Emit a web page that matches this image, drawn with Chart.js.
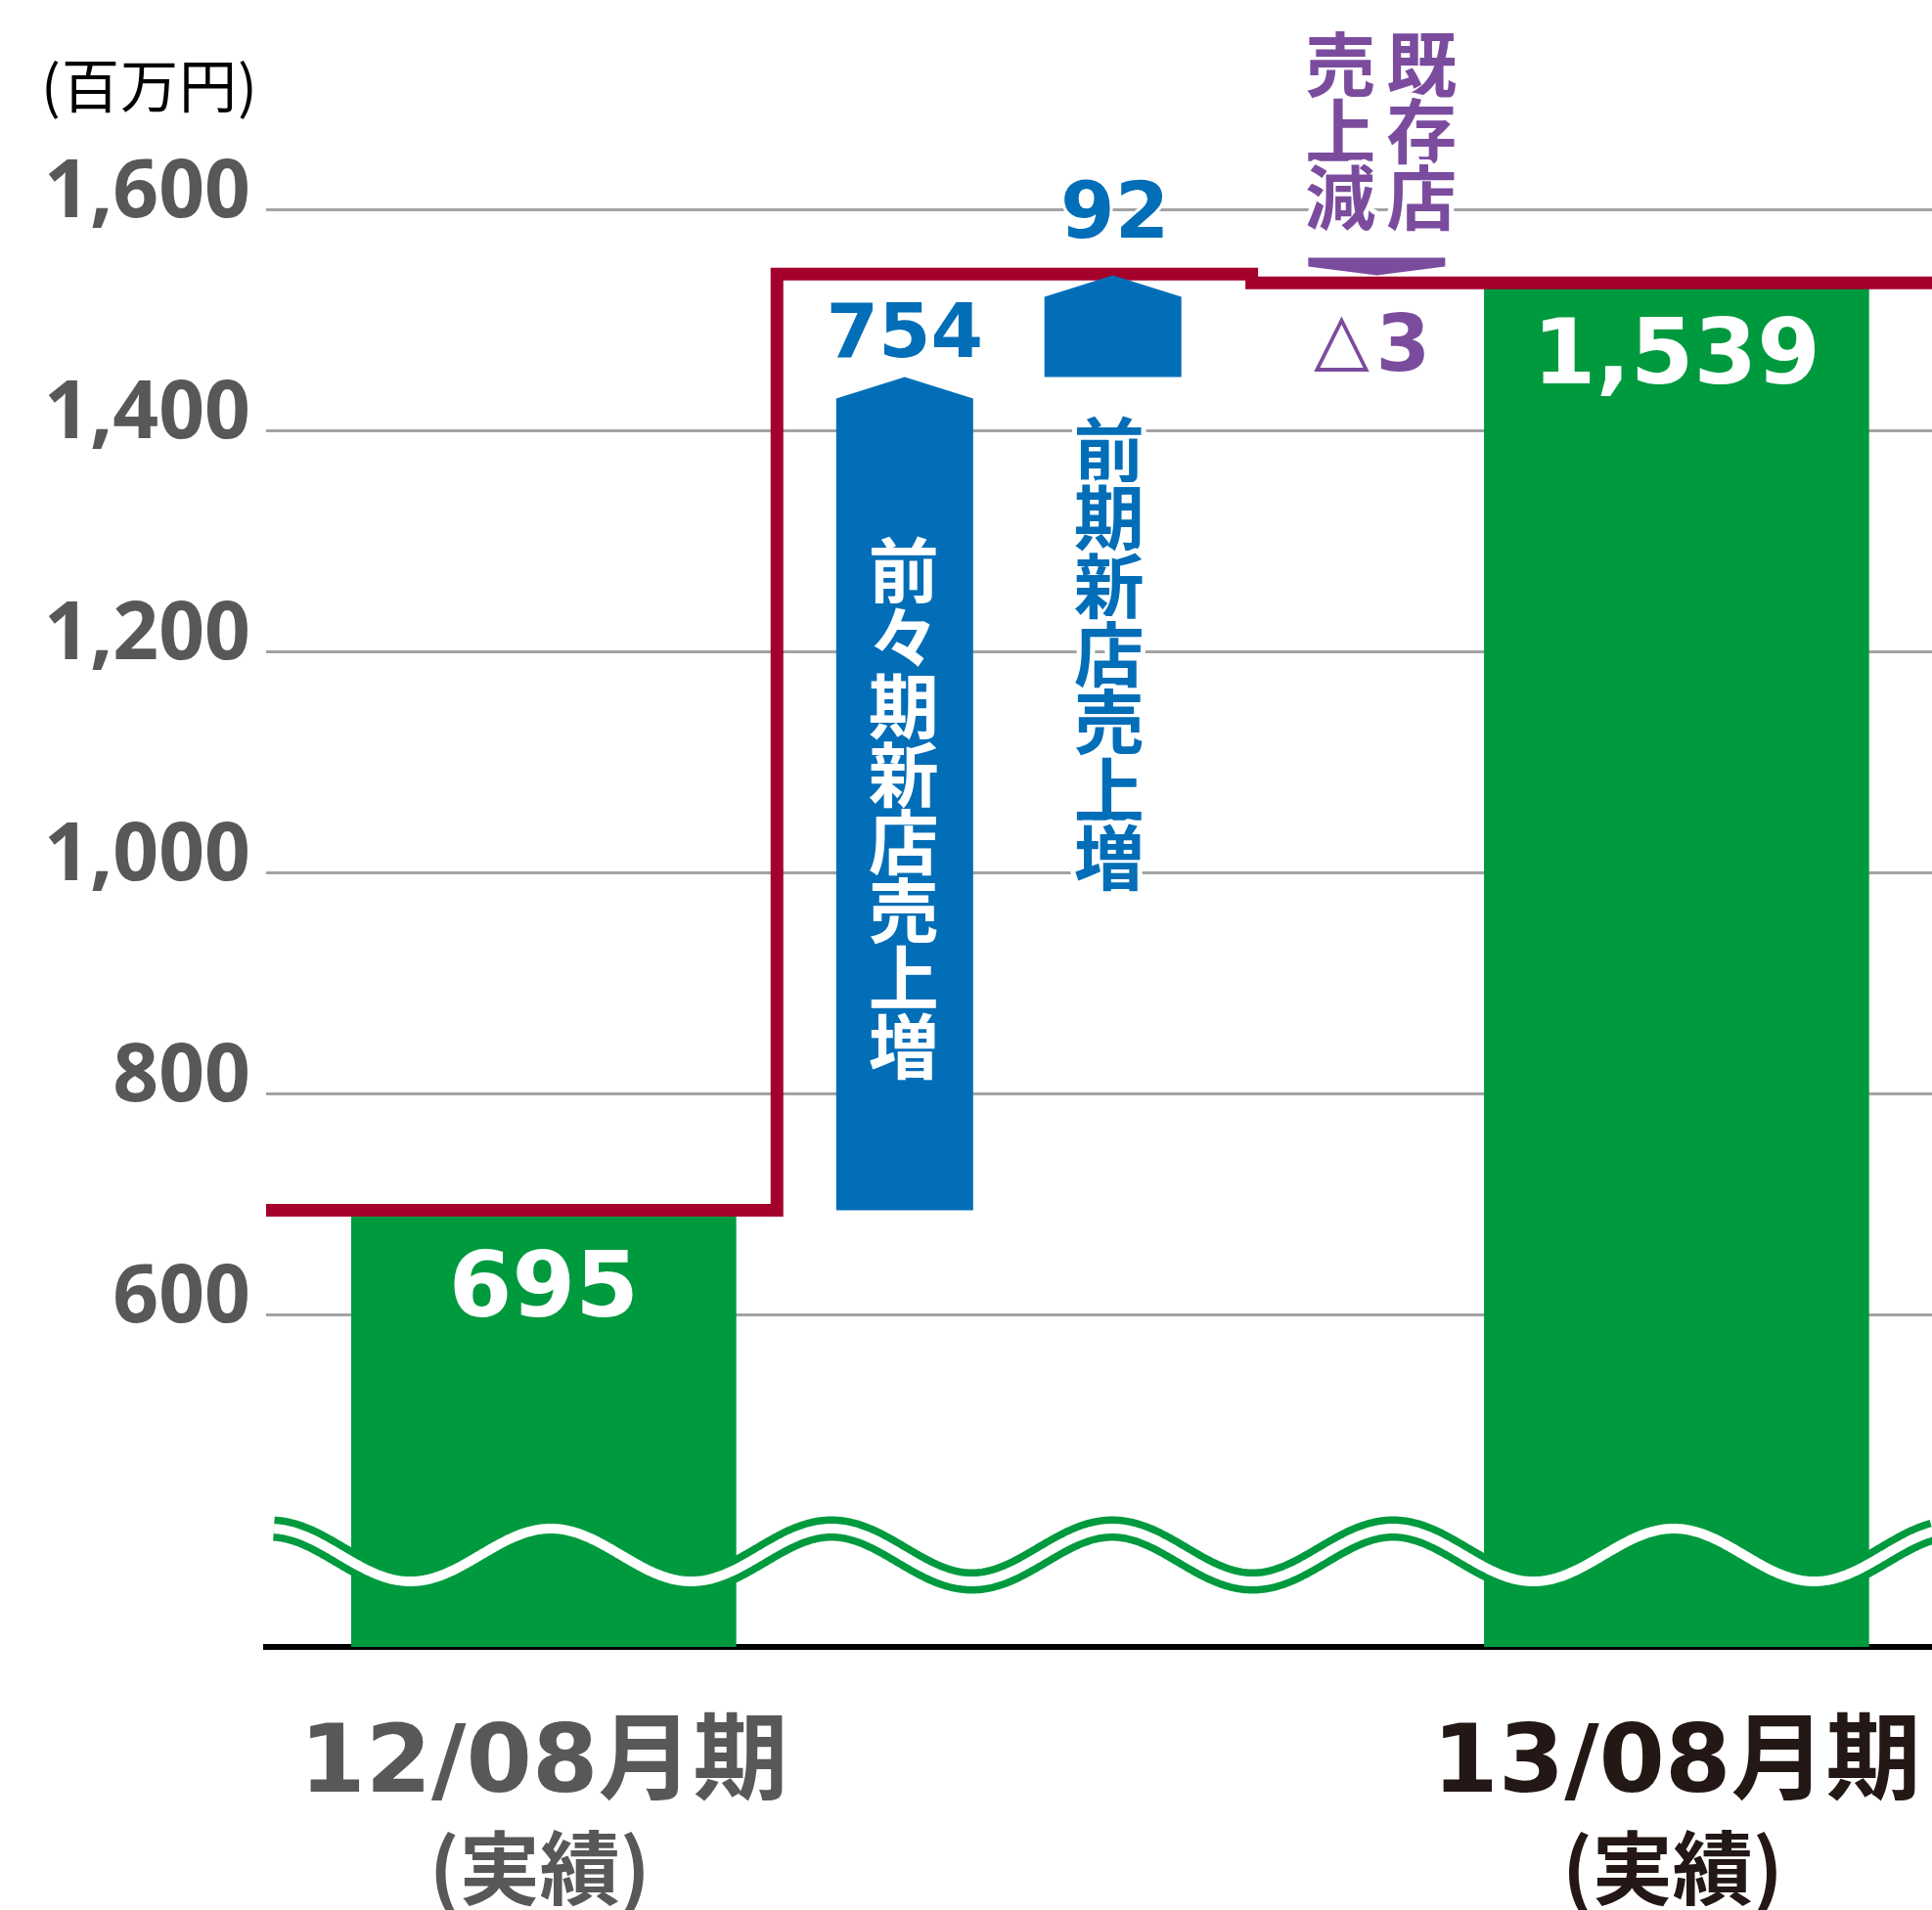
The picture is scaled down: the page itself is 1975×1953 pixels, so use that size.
<!DOCTYPE html>
<html lang="ja">
<head>
<meta charset="utf-8">
<title>売上高 増減要因</title>
<script src="https://cdn.jsdelivr.net/npm/chart.js@4.4.1/dist/chart.umd.min.js"></script>
<style>
  html, body { margin: 0; padding: 0; background: #fff; }
  canvas { display: block; }
</style>
</head>
<body>
<canvas id="salesChart" width="1975" height="1953"></canvas>
<script>
// values (百万円)
const periods = ['12/08月期', '13/08月期'];
const periodNotes = ['(実績)', '(実績)'];
const sales = [695, 1539];
const changeLabels = ['前々期新店売上増', '前期新店売上増', '既存店売上減'];
const changes = [754, 92, -3];
const stepLevels = [695, 1542, 1534]; // red total line as drawn in the picture
const yTicks = [600, 800, 1000, 1200, 1400, 1600];

// where things sit on the hidden 0..6 x axis
const periodX = [1, 5.08];
const changeX = [2.3, 3.05, 4.0];
const stepX = [0, 1.84, 3.55, 6];

const GREEN = '#009a3e', BLUE = '#036eb8', RED = '#a4002c', PURPLE = '#7b4c9e';
const GRAY = '#595757', DARK = '#231815';
const periodColors = [GRAY, DARK];

// floating ranges for the change arrows, chained from the first period
let running = sales[0];
const changeRanges = changes.map(c => {
    const r = [running, running + c];
    running += c;
    return r;
});

function drawColumn(ctx, text, x, firstY, pitch, fill, halo) {
    [...text].forEach((ch, k) => {
        const cy = firstY + k * pitch;
        if (halo) {
            ctx.strokeStyle = '#fff';
            ctx.lineWidth = halo;
            ctx.lineJoin = 'round';
            ctx.strokeText(ch, x, cy);
        }
        ctx.fillStyle = fill;
        ctx.fillText(ch, x, cy);
    });
}

const notesPlugin = {
    id: 'notes',
    afterDatasetsDraw(chart) {
        const { ctx, chartArea: area } = chart;
        const bars = chart.getDatasetMeta(0).data;
        const arrows = chart.getDatasetMeta(2).data;
        ctx.save();

        // double wavy break line
        const midY = area.bottom - 94, amp = 27, period = 287;
        const x0 = area.left + 8;
        ctx.beginPath();
        for (let x = x0; x <= chart.width + 2; x += 2) {
            const wy = midY - amp * Math.cos(2 * Math.PI * (x - area.left - 4) / period);
            if (x === x0) ctx.moveTo(x, wy); else ctx.lineTo(x, wy);
        }
        ctx.lineCap = 'butt';
        ctx.lineJoin = 'round';
        ctx.strokeStyle = GREEN;
        ctx.lineWidth = 25;
        ctx.stroke();
        ctx.strokeStyle = '#fff';
        ctx.lineWidth = 10;
        ctx.stroke();

        // arrows (up = blue, down = purple)
        arrows.forEach((el, i) => {
            const { x, y, base, width } = el.getProps(['x', 'y', 'base', 'width'], true);
            const top = Math.min(y, base), bottom = Math.max(y, base), half = width / 2;
            ctx.beginPath();
            if (changes[i] >= 0) {
                ctx.moveTo(x - half, bottom);
                ctx.lineTo(x - half, top + 22);
                ctx.lineTo(x, top);
                ctx.lineTo(x + half, top + 22);
                ctx.lineTo(x + half, bottom);
                ctx.fillStyle = BLUE;
            } else {
                ctx.moveTo(x - half, top - 18);
                ctx.lineTo(x + half, top - 18);
                ctx.lineTo(x + half, top - 9);
                ctx.lineTo(x, top);
                ctx.lineTo(x - half, top - 9);
                ctx.fillStyle = PURPLE;
            }
            ctx.closePath();
            ctx.fill();
        });

        // bar values
        ctx.textAlign = 'center';
        ctx.textBaseline = 'alphabetic';
        ctx.font = "bold 93px 'DejaVu Sans'";
        ctx.fillStyle = '#fff';
        bars.forEach((el, i) => {
            ctx.fillText(sales[i].toLocaleString('en-US'), el.x, el.y + 108);
        });

        // change values and captions
        const cjk = "bold 72px 'Noto Sans CJK JP'";
        arrows.forEach((el, i) => {
            const top = Math.min(el.y, el.base), bottom = Math.max(el.y, el.base);
            ctx.textAlign = 'center';
            if (i === 0) {
                ctx.textBaseline = 'alphabetic';
                ctx.font = "bold 77px 'DejaVu Sans'";
                ctx.strokeStyle = '#fff'; ctx.lineWidth = 6;
                ctx.strokeText(String(changes[i]), el.x, top - 20);
                ctx.fillStyle = BLUE;
                ctx.fillText(String(changes[i]), el.x, top - 20);
                ctx.textBaseline = 'middle';
                ctx.font = cjk;
                drawColumn(ctx, changeLabels[i], el.x - 1, top + 197, 69.6, '#fff', 0);
            } else if (i === 1) {
                ctx.textBaseline = 'alphabetic';
                ctx.font = "bold 80px 'DejaVu Sans'";
                ctx.strokeStyle = '#fff'; ctx.lineWidth = 6;
                ctx.strokeText(String(changes[i]), el.x + 2, top - 38);
                ctx.fillStyle = BLUE;
                ctx.fillText(String(changes[i]), el.x + 2, top - 38);
                ctx.textBaseline = 'middle';
                ctx.font = cjk;
                drawColumn(ctx, changeLabels[i], el.x - 4, bottom + 74, 69.6, BLUE, 10);
            } else {
                // △3 below the line, caption in two columns above the arrow
                ctx.textBaseline = 'alphabetic';
                ctx.font = "bold 80px 'DejaVu Sans'";
                ctx.fillStyle = PURPLE;
                ctx.fillText(String(Math.abs(changes[i])), el.x + 27, top + 98);
                ctx.font = "74px 'DejaVu Sans'";
                ctx.fillText('△', el.x - 36, top + 90);
                ctx.textBaseline = 'middle';
                ctx.font = cjk;
                const chars = [...changeLabels[i]];
                const firstY = top - 18 - 62 - 2 * 68;
                drawColumn(ctx, chars.slice(0, 3).join(''), el.x + 46, firstY, 68, PURPLE, 10);
                drawColumn(ctx, chars.slice(3).join(''), el.x - 37, firstY, 68, PURPLE, 10);
            }
        });

        // period labels under the axis
        bars.forEach((el, i) => {
            ctx.fillStyle = periodColors[i];
            ctx.textAlign = 'center';
            ctx.textBaseline = 'alphabetic';
            ctx.font = "bold 97px 'DejaVu Sans', 'Noto Sans CJK JP'";
            ctx.fillText(periods[i], el.x, area.bottom + 148);
            ctx.textBaseline = 'middle';
            ctx.font = "bold 82px 'Noto Sans CJK JP'";
            ctx.fillText(periodNotes[i], el.x - 4, area.bottom + 226);
        });

        // unit
        ctx.fillStyle = '#000';
        ctx.textAlign = 'left';
        ctx.textBaseline = 'middle';
        ctx.font = "59px 'Noto Sans CJK JP'";
        ctx.letterSpacing = '1px';
        ctx.fillText('(百万円)', 42, 88);
        ctx.letterSpacing = '0px';

        ctx.restore();
    }
};

const ctx = document.getElementById('salesChart').getContext('2d');
new Chart(ctx, {
    type: 'bar',
    data: {
        datasets: [
            {
                type: 'bar',
                label: '売上高',
                data: periods.map((p, i) => ({ x: periodX[i], y: sales[i] })),
                backgroundColor: GREEN,
                barThickness: 393,
                grouped: false,
                order: 3
            },
            {
                type: 'line',
                label: '合計',
                data: stepX.map((x, i) => ({ x: x, y: stepLevels[Math.min(i, stepLevels.length - 1)] })),
                stepped: 'before',
                borderColor: RED,
                borderWidth: 13,
                borderJoinStyle: 'miter',
                borderCapStyle: 'butt',
                pointRadius: 0,
                fill: false,
                order: 1
            },
            {
                type: 'bar',
                label: '増減',
                data: changeLabels.map((l, i) => ({ x: changeX[i], y: changeRanges[i] })),
                backgroundColor: 'rgba(0,0,0,0)',
                barThickness: 140,
                grouped: false,
                order: 2
            }
        ]
    },
    options: {
        responsive: false,
        animation: false,
        events: [],
        layout: { padding: { left: 0, right: 0, top: 0, bottom: 269 } },
        plugins: {
            legend: { display: false },
            tooltip: { enabled: false }
        },
        scales: {
            x: {
                type: 'linear',
                min: 0,
                max: 6,
                offset: false,
                ticks: { display: false },
                grid: { display: false, drawTicks: false },
                border: { display: true, color: '#000', width: 6 }
            },
            y: {
                type: 'linear',
                min: 300,
                max: 1790,
                beginAtZero: false,
                afterBuildTicks: scale => {
                    scale.ticks = yTicks.map(v => ({ value: v }));
                },
                afterFit: scale => {
                    scale.width = 272;
                    scale.paddingTop = 0;
                    scale.paddingBottom = 0;
                    scale.paddingLeft = 0;
                    scale.paddingRight = 0;
                },
                ticks: {
                    padding: 16,
                    labelOffset: -16,
                    color: GRAY,
                    font: { family: 'Open Sans', weight: 700, size: 82 },
                    callback: v => v.toLocaleString('en-US')
                },
                grid: { color: '#a3a3a3', lineWidth: 3, drawTicks: false },
                border: { display: false }
            }
        }
    },
    plugins: [notesPlugin]
});
</script>
</body>
</html>
